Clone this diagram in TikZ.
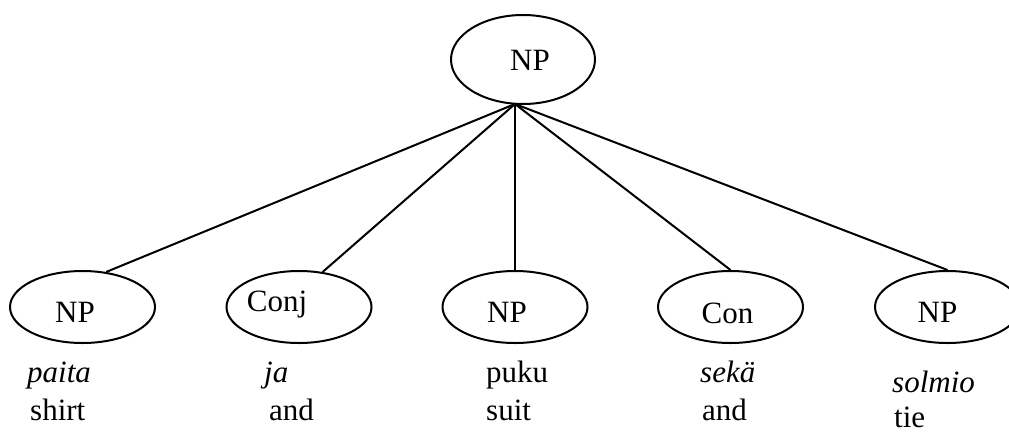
\documentclass[tikz,border=0pt]{standalone}
\usepackage{fontspec}
\setmainfont{Liberation Serif}
\usetikzlibrary{shapes.geometric}
\begin{document}
\begin{tikzpicture}[x=1pt,y=-1pt,
  phrase/.style={ellipse, draw, line width=2pt, minimum width=145pt, minimum height=72pt, inner sep=0pt},
  root/.style={phrase, minimum width=144pt, minimum height=89pt},
  cat/.style={font=\fontsize{31}{37}\selectfont, anchor=base, inner sep=0pt},
  word/.style={font=\fontsize{31}{37}\selectfont\itshape, anchor=base west, inner sep=0pt},
  gloss/.style={font=\fontsize{31}{37}\selectfont, anchor=base west, inner sep=0pt},
  branch/.style={line width=2pt}]
\clip (0,0) rectangle (1009,432);

% phrase nodes
\node[root]   (top)  at (523,59.5) {};
\node[phrase] (np1)  at (82.5,307) {};
\node[phrase] (conj) at (299,307) {};
\node[phrase] (np3)  at (515,307) {};
\node[phrase] (con)  at (730.5,307) {};
\node[phrase] (np5)  at (947.5,307) {};

% category names inside the ellipses
\node[cat, xshift=7pt,   yshift=-11pt] (topcat)  at (top.center)  {NP};
\node[cat, xshift=-7.5pt, yshift=-15pt] (np1cat)  at (np1.center)  {NP};
\node[cat, xshift=-22pt, yshift=-4.5pt] (conjcat) at (conj.center) {Conj};
\node[cat, xshift=-8pt,  yshift=-15pt] (np3cat)  at (np3.center)  {NP};
\node[cat, xshift=-3pt,  yshift=-16pt] (concat)  at (con.center)  {Con};
\node[cat, xshift=-10pt, yshift=-15pt] (np5cat)  at (np5.center)  {NP};

% branches
\coordinate (apex) at (515,104);
\draw[branch] (apex) -- (np1.56);
\draw[branch] (apex) -- (conj.56);
\draw[branch] (apex) -- (np3.north);
\draw[branch] (apex) -- (con.north);
\draw[branch] (apex) -- (np5.north);

% Finnish words and English glosses
\node[word]  (w1) at (27,382)  {paita};
\node[gloss] (g1) at (30,420)  {shirt};
\node[word]  (w2) at (264,382) {ja};
\node[gloss] (g2) at (269,420) {and};
\node[word]  (w3) at (486,382) {\upshape puku};
\node[gloss] (g3) at (486,420) {suit};
\node[word]  (w4) at (700,382) {sekä};
\node[gloss] (g4) at (702,420) {and};
\node[word]  (w5) at (892,392) {solmio};
\node[gloss] (g5) at (894,427) {tie};
\end{tikzpicture}
\end{document}
